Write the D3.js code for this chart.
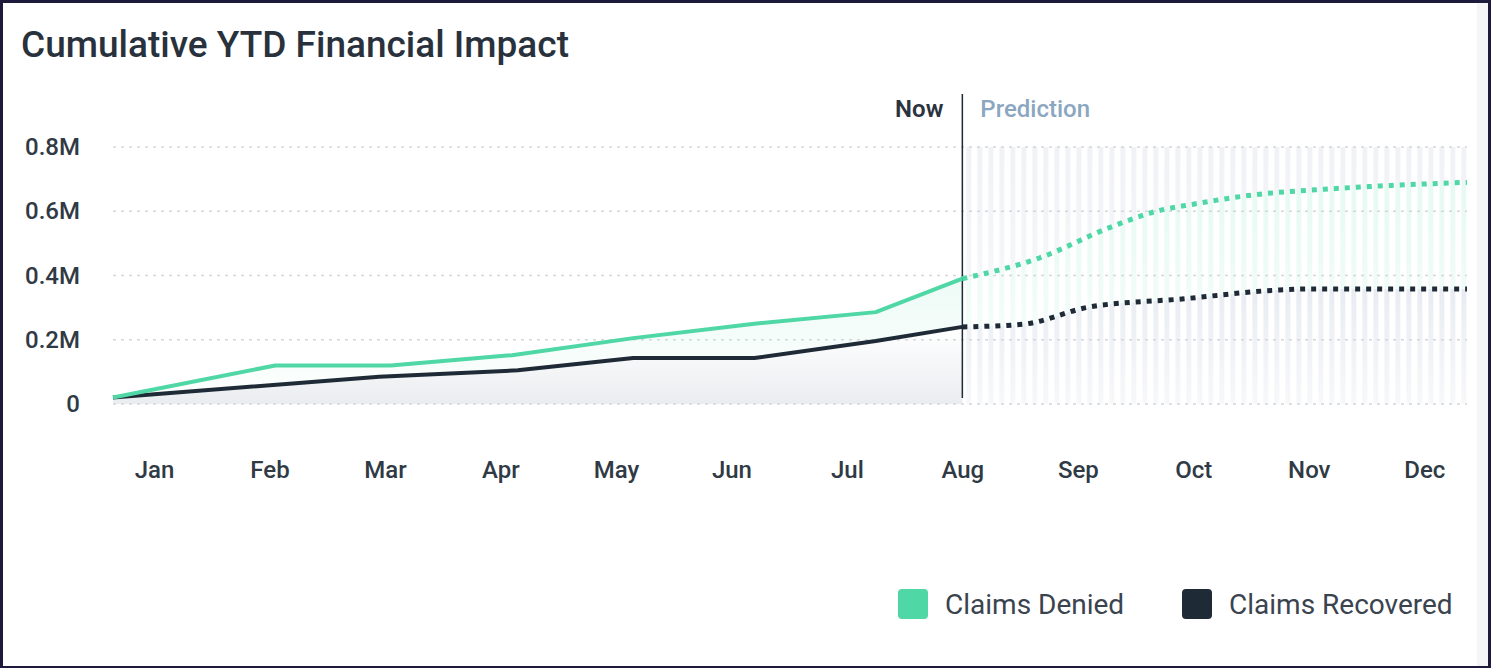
<!DOCTYPE HTML>
<html>
<head>
<meta charset="utf-8">
<title>Cumulative YTD Financial Impact</title>
<script src="https://d3js.org/d3.v7.min.js"></script>
<style>
  body { margin: 0; background: #ffffff; }
  text { font-family: Roboto, "Noto Sans", sans-serif; }
</style>
</head>

<body>
<script>

"use strict";

// tick labels
const months = ["Jan", "Feb", "Mar", "Apr", "May", "Jun", "Jul", "Aug", "Sep", "Oct", "Nov", "Dec"];
const yTicks = [0, 0.2, 0.4, 0.6, 0.8];

// x positions are in month units (0 = Jan label), values in millions
const deniedPos = [-0.355, 1.05, 2.05, 3.1, 4.15, 5.2, 6.25, 7];
const deniedVal = [0.02, 0.12, 0.12, 0.152, 0.205, 0.25, 0.286, 0.39];
const recoveredPos = [-0.355, 1.95, 3.15, 4.15, 5.2, 6.25, 7];
const recoveredVal = [0.02, 0.085, 0.105, 0.143, 0.143, 0.196, 0.24];

// prediction part
const deniedPredPos = [7, 7.67, 8.28, 8.68, 9.0, 9.5, 10.2, 11.37];
const deniedPredVal = [0.39, 0.455, 0.55, 0.6, 0.622, 0.65, 0.67, 0.69];
const recoveredPredPos = [7, 7.52, 8.1, 8.9, 9.75, 10.0, 11.37];
const recoveredPredVal = [0.24, 0.248, 0.302, 0.327, 0.355, 0.358, 0.358];

const nowPos = 7;
const xDomain = [-0.355, 11.37];

const GREEN = "#4fd7a5";
const DARK = "#1f2a37";

const W = 1491, H = 668;

const svg = d3.select("body").append("svg")
  .attr("width", W)
  .attr("height", H);

// frame
svg.append("rect").attr("width", W).attr("height", H).attr("fill", "#1d1a3b");
svg.append("rect").attr("x", 3).attr("y", 3).attr("width", W - 6).attr("height", H - 5).attr("fill", "#ffffff");
svg.append("rect").attr("x", 1477).attr("y", 3).attr("width", 11).attr("height", H - 5).attr("fill", "#f5f5f8");

const x = d3.scaleLinear().domain(xDomain).range([113, 1467]);
const y = d3.scaleLinear().domain([0, 0.8]).range([404, 147]);

const zip = (p, v) => p.map((d, i) => ({x: d, y: v[i]}));
const denied = zip(deniedPos, deniedVal);
const recovered = zip(recoveredPos, recoveredVal);
const deniedPred = zip(deniedPredPos, deniedPredVal);
const recoveredPred = zip(recoveredPredPos, recoveredPredVal);

const defs = svg.append("defs");

const gGreen = defs.append("linearGradient").attr("id", "gGreen")
  .attr("x1", 0).attr("y1", 0).attr("x2", 0).attr("y2", 1);
gGreen.append("stop").attr("offset", "0%").attr("stop-color", GREEN).attr("stop-opacity", 0.1);
gGreen.append("stop").attr("offset", "100%").attr("stop-color", GREEN).attr("stop-opacity", 0.01);

const gDark = defs.append("linearGradient").attr("id", "gDark")
  .attr("x1", 0).attr("y1", 0).attr("x2", 0).attr("y2", 1);
gDark.append("stop").attr("offset", "0%").attr("stop-color", "#ffffff").attr("stop-opacity", 1);
gDark.append("stop").attr("offset", "100%").attr("stop-color", "#eaedf0").attr("stop-opacity", 1);

const gStripe = defs.append("linearGradient").attr("id", "gStripe")
  .attr("x1", 0).attr("y1", 0).attr("x2", 0).attr("y2", 1);
gStripe.append("stop").attr("offset", "0%").attr("stop-color", "#f0f2f6");
gStripe.append("stop").attr("offset", "100%").attr("stop-color", "#f9fafb");

const gStripeGreen = defs.append("linearGradient").attr("id", "gStripeGreen")
  .attr("x1", 0).attr("y1", 0).attr("x2", 0).attr("y2", 1);
gStripeGreen.append("stop").attr("offset", "0%").attr("stop-color", GREEN).attr("stop-opacity", 0.14);
gStripeGreen.append("stop").attr("offset", "100%").attr("stop-color", GREEN).attr("stop-opacity", 0.03);

const gStripeDark = defs.append("linearGradient").attr("id", "gStripeDark")
  .attr("x1", 0).attr("y1", 0).attr("x2", 0).attr("y2", 1);
gStripeDark.append("stop").attr("offset", "0%").attr("stop-color", "#e8ecf2");
gStripeDark.append("stop").attr("offset", "100%").attr("stop-color", "#f7f8fa");

const pat = defs.append("pattern").attr("id", "stripes")
  .attr("patternUnits", "userSpaceOnUse")
  .attr("x", x(nowPos) + 4).attr("y", 0)
  .attr("width", 11).attr("height", 10);
pat.append("rect").attr("width", 5).attr("height", 10).attr("fill", "#ffffff");

const mask = defs.append("mask").attr("id", "stripeMask");
mask.append("rect")
  .attr("x", x(nowPos)).attr("y", y(0.8))
  .attr("width", x(xDomain[1]) - x(nowPos)).attr("height", y(0) - y(0.8))
  .attr("fill", "url(#stripes)");

const area = d3.area().x((d) => x(d.x)).y0(y(0)).y1((d) => y(d.y));
const areaCurve = d3.area().curve(d3.curveMonotoneX).x((d) => x(d.x)).y0(y(0)).y1((d) => y(d.y));
const line = d3.line().x((d) => x(d.x)).y((d) => y(d.y));
const lineCurve = d3.line().curve(d3.curveMonotoneX).x((d) => x(d.x)).y((d) => y(d.y));

// areas, actual part
svg.append("path").attr("d", area(denied)).attr("fill", "url(#gGreen)");
svg.append("path").attr("d", area(recovered)).attr("fill", "url(#gDark)");

// prediction stripes
const striped = svg.append("g").attr("mask", "url(#stripeMask)");
striped.append("rect")
  .attr("x", x(nowPos)).attr("y", y(0.8))
  .attr("width", x(xDomain[1]) - x(nowPos)).attr("height", y(0) - y(0.8))
  .attr("fill", "url(#gStripe)");
striped.append("path").attr("d", areaCurve(deniedPred)).attr("fill", "#ffffff");
striped.append("path").attr("d", areaCurve(deniedPred)).attr("fill", "url(#gStripeGreen)");
striped.append("path").attr("d", areaCurve(recoveredPred)).attr("fill", "url(#gStripeDark)");

// gridlines
svg.append("g").selectAll("line")
  .data(yTicks)
  .enter()
  .append("line")
  .attr("x1", 113)
  .attr("x2", 1467)
  .attr("y1", (d) => y(d))
  .attr("y2", (d) => y(d))
  .attr("stroke", "#d3d6db")
  .attr("stroke-width", 1.5)
  .attr("stroke-dasharray", "3,5");

// axes
const yAxis = svg.append("g")
  .attr("transform", "translate(113,0)")
  .call(d3.axisLeft(y).tickValues(yTicks).tickSize(0).tickPadding(33)
    .tickFormat((d) => d === 0 ? "0" : d3.format(".1f")(d) + "M"));
yAxis.select(".domain").remove();
yAxis.selectAll("text")
  .attr("font-size", 24).attr("font-weight", 500).attr("fill", "#303a45")
  .style("font-family", "Roboto, sans-serif");

const xAxis = svg.append("g")
  .attr("transform", "translate(0,461)")
  .call(d3.axisBottom(x).tickValues(d3.range(months.length)).tickSize(0).tickPadding(0)
    .tickFormat((i) => months[i]));
xAxis.select(".domain").remove();
xAxis.selectAll("text")
  .attr("font-size", 24).attr("font-weight", 500).attr("fill", "#303a45")
  .style("font-family", "Roboto, sans-serif");

// now marker
svg.append("line")
  .attr("x1", x(nowPos)).attr("x2", x(nowPos))
  .attr("y1", 94).attr("y2", 398)
  .attr("stroke", DARK).attr("stroke-width", 1.5);
svg.append("text")
  .attr("x", x(nowPos) - 19).attr("y", 117)
  .attr("text-anchor", "end")
  .attr("font-size", 24).attr("font-weight", 600).attr("fill", "#2a333e")
  .text("Now");
svg.append("text")
  .attr("x", x(nowPos) + 18).attr("y", 117)
  .attr("font-size", 24).attr("font-weight", 500).attr("fill", "#8ba6bf")
  .text("Prediction");

// lines
svg.append("path").attr("d", line(recovered))
  .attr("fill", "none").attr("stroke", DARK).attr("stroke-width", 4).attr("stroke-linejoin", "round");
svg.append("path").attr("d", line(denied))
  .attr("fill", "none").attr("stroke", GREEN).attr("stroke-width", 4).attr("stroke-linejoin", "round");
svg.append("path").attr("d", lineCurve(recoveredPred))
  .attr("fill", "none").attr("stroke", DARK).attr("stroke-width", 5).attr("stroke-dasharray", "5,6");
svg.append("path").attr("d", lineCurve(deniedPred))
  .attr("fill", "none").attr("stroke", GREEN).attr("stroke-width", 5).attr("stroke-dasharray", "5,6");

// title
svg.append("text")
  .attr("x", 21).attr("y", 57)
  .attr("font-size", 37).attr("font-weight", 500).attr("fill", "#29323c")
  .text("Cumulative YTD Financial Impact");

// legend
const legend = [
  {name: "Claims Denied", color: GREEN, x: 898},
  {name: "Claims Recovered", color: DARK, x: 1182}
];
const lg = svg.append("g").selectAll("g")
  .data(legend)
  .enter()
  .append("g")
  .attr("transform", (d) => "translate(" + d.x + ",589)");
lg.append("rect")
  .attr("width", 30).attr("height", 30).attr("rx", 4)
  .attr("fill", (d) => d.color);
lg.append("text")
  .attr("x", 47).attr("y", 25)
  .attr("font-size", 28).attr("fill", "#3a444f")
  .text((d) => d.name);

</script>
</body>
</html>
